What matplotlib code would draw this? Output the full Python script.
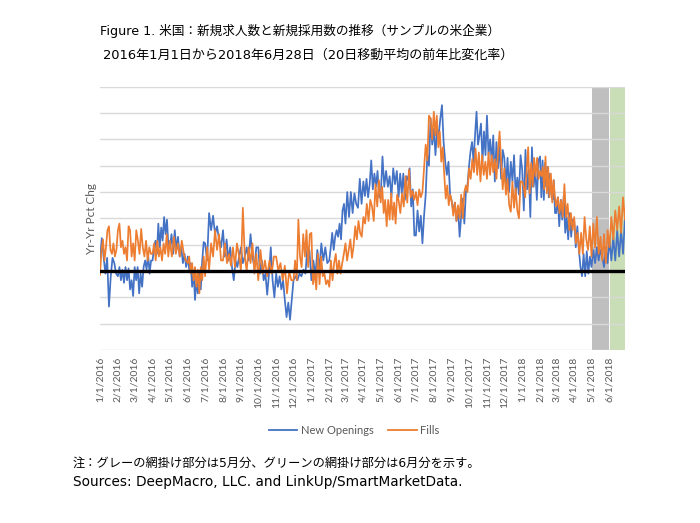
import matplotlib
matplotlib.use("Agg")
import matplotlib.pyplot as plt
import pandas as pd
from matplotlib.lines import Line2D

# ---------------- data (Yr-Yr pct chg, 1 unit = 1 gridline step) ----------------
openings_2016 = [
    [0.4, 1.25, 0.55, -0.1, 0.5, -1.35, -0.2, 0.5, 0.3, -0.1],
    [-0.2, 0.15, -0.35, 0.05, -0.45, 0.15, -0.35, 0.1, -0.7, -0.35, -0.95],
    [0.15, -0.35, 0.15, -0.85, -0.1, -0.6, 0.15, 0.4, 0.05, 0.65, -0.1, 0.4],
    [0.4, 0.9, 1.15, 0.65, 1.8, 0.9, 1.65, 1.15, 2.05, 1.4, 1.95, 0.9],
    [0.9, 1.4, 0.65, 1.55, 0.8, 1.3, 0.55, 0.9, 0.3, 0.65, 0.15],
    [0.55, 0.05, 0.3, -0.6, 0.0, -1.1, -0.35, -0.85, -0.1, -0.7, 0.4, 1.1],
    [1.05, 0.4, 2.2, 1.55, 2.1, 1.4, 1.7, 1.2, 0.9],
    [1.55, 0.55, 1.2, 0.4, 0.9, 0.15, -0.35, 0.4, 0.15, 0.55],
    [0.9, 0.3, 0.55, 0.9, 0.4, 1.4, 0.55, 0.15, 0.9],
    [0.9, -0.1, 0.4, -0.35, -0.1, -0.9, -0.1, 0.9, -0.35, -1.0],
    [-0.1, -0.6, -0.2, -0.7, -0.35, -1.1, -1.75, -1.2, -1.85, -1.1],
    [-0.35, -0.2, -0.35, -0.1, -0.2, 0.05, -0.1, 0.9, 0.8],
]
openings_2017 = [
    [-0.35, 0.4, -0.2, 0.8, 0.05, 1.05, 0.4, 0.9, 0.3],
    [0.4, 0.9, 1.45, 0.8, 1.3, 1.55, 1.3, 1.8, 1.2, 2.3, 2.55],
    [1.8, 3.0, 2.05, 3.0, 2.2, 2.95, 2.55, 2.4, 3.5, 2.55],
    [3.4, 2.85, 3.5, 2.8, 3.3, 4.2, 3.1, 3.7, 3.2, 3.8, 2.8],
    [2.8, 4.35, 3.2, 3.8, 3.2, 3.6, 2.8, 3.9, 3.3, 3.8],
    [2.8, 3.7, 2.95, 3.7, 2.7, 3.6, 3.45, 3.9, 2.45, 3.1, 1.35],
    [1.35, 2.3, 1.5, 2.1, 1.05, 2.1, 2.9, 4.4, 4.0, 5.8, 4.8],
    [5.4, 4.4, 5.4, 5.15, 5.8, 6.3, 4.9, 4.15, 3.65, 4.15, 2.9],
    [2.65, 2.25, 2.6, 1.9, 2.4, 1.3, 2.1, 2.75, 1.8, 3.0, 3.25],
    [4.0, 4.55, 4.9, 4.15, 5.15, 6.05, 4.8, 5.15, 5.6, 4.15, 5.3, 4.4],
    [5.9, 4.4, 5.0, 4.15, 5.15, 3.4, 4.9, 3.9, 4.8, 3.5, 4.6],
    [4.3, 3.25, 4.3, 3.0, 4.15, 3.4, 4.4, 2.9, 3.55, 2.9, 4.4],
]
openings_2018 = [
    [3.85, 2.3, 4.6, 3.1, 3.85, 2.05, 4.7, 3.2, 3.85, 2.7, 4.2],
    [4.35, 2.8, 4.2, 2.7, 4.1, 3.2, 3.95, 2.8, 3.7, 2.95, 2.7, 3.45, 2.2],
    [2.2, 2.8, 1.7, 2.7, 1.95, 2.85, 1.45, 2.05, 1.2, 2.2, 1.3, 1.95],
    [1.9, 0.9, 1.7, 0.8, 0.15, -0.2, 0.65, -0.2, 0.75, -0.1, 0.55],
    [0.15, 0.8, 0.3, 0.9, 0.4, 0.8, 0.55, 0.15, 0.9, 0.3],
    [1.2, 0.4, 1.3, 0.4, 1.55, 0.55, 1.55, 0.65, 2.05],
]

fills_2016 = [
    [-0.15, 0.8, 1.2, 0.4, 0.9, 1.55, 1.7, 0.8, 0.65, 1.05, 0.55, 0.8],
    [1.55, 1.8, 0.9, 1.15, 0.65, 0.9, 0.4, 1.7, 1.55, 0.55, 1.05],
    [0.4, 1.55, 1.15, 0.65, 1.6, 0.9, 0.55, 1.15, 0.4, 0.9, 0.65],
    [0.65, 1.05, 0.4, 1.15, 0.55, 0.9, 0.4, 1.05, 0.65, 1.4, 0.55],
    [1.15, 0.55, 1.3, 0.65, 1.05, 0.55, 1.15, 0.65, 0.4],
    [0.3, 0.55, -0.1, 0.3, -0.35, 0.15, -0.6, 0.05, -0.85, 0.15, -0.35, 0.55],
    [-0.2, 0.9, 0.05, 1.05, 0.55, 1.55, 0.8, 1.4, 0.4],
    [0.4, 1.05, 0.3, 0.65, 0.2, 0.9, 0.15, 1.05, 0.6],
    [0.0, 2.4, 0.55, 0.0, 0.9, 0.3, 1.05, -0.1, 0.65],
    [-0.35, 0.8, -0.1, 0.4, -0.2, 0.4, -0.1, 0.55],
    [0.55, 0.0, 0.3, -0.35, 0.2, -0.85, 0.0, -0.35],
    [-0.35, 0.4, -0.35, 1.95, 0.55, 0.15, 1.4, 0.55, 1.55, 0.15, 1.4],
]
fills_2017 = [
    [1.45, -0.5, 0.0, -0.7, 0.65, -0.5, 0.55, -0.2, -0.1, -0.5, -0.35],
    [-0.6, 0.4, -0.35, 0.3, 0.65, -0.1, 0.4, -0.1, 0.3, 0.65],
    [1.05, 0.4, 0.8, 1.2, 0.5, 0.95, 1.7, 1.2, 1.9, 1.45, 1.3],
    [2.05, 1.8, 2.55, 1.9, 2.7, 2.45, 1.9, 3.3, 2.45, 3.45],
    [2.6, 3.2, 2.2, 2.7, 1.7, 2.7, 1.95, 2.95, 1.95, 2.6, 1.8, 2.9],
    [2.7, 2.2, 2.95, 2.45, 3.6, 2.6, 3.85, 2.8, 3.05, 2.7],
    [3.0, 2.5, 3.1, 2.8, 3.0, 3.9, 4.8, 4.2, 5.9, 5.8, 5.0],
    [6.05, 5.15, 5.9, 4.7, 5.3, 4.15, 4.7, 3.65, 2.75, 3.25, 2.5, 2.9],
    [2.65, 2.1, 2.6, 1.9, 2.5, 2.0, 2.9, 2.0, 3.0, 3.25, 3.0],
    [3.9, 3.5, 4.25, 3.75, 4.65, 3.65, 4.5, 3.4, 4.4, 3.65, 4.15],
    [3.5, 4.5, 3.65, 4.4, 3.75, 4.25, 3.5, 4.5, 5.3, 4.15, 3.1],
    [3.9, 2.9, 3.5, 2.5, 2.25, 3.4, 2.4, 3.15, 2.3, 2.0, 3.4],
]
fills_2018 = [
    [3.4, 3.2, 2.8, 3.8, 4.7, 2.95, 4.1, 3.2, 4.3, 3.6, 4.3, 3.5],
    [3.8, 3.6, 3.95, 3.1, 4.35, 2.95, 3.95, 2.8, 3.7, 2.6, 3.45, 2.8],
    [2.45, 2.8, 2.2, 2.7, 2.05, 3.3, 2.05, 2.55, 1.55, 2.2, 1.55],
    [2.05, 1.05, 1.45, 0.65, 1.45, 0.65, 2.05, 1.2, 0.8, 1.7],
    [0.55, 1.8, 0.9, 2.05, 0.65, 1.3, 0.4, 1.4, 0.3, 1.55],
    [0.9, 2.05, 1.2, 2.3, 1.55, 2.45, 1.45, 2.8, 1.95],
]

start_date = "2016-01-01"
end_date = "2018-06-28"
may_start, jun_start = "2018-05-01", "2018-06-01"
series_names = ["New Openings", "Fills"]

title_1 = "Figure 1. 米国：新規求人数と新規採用数の推移（サンプルの米企業）"
title_2 = "2016年1月1日から2018年6月28日（20日移動平均の前年比変化率）"
note_1 = "注：グレーの網掛け部分は5月分、グリーンの網掛け部分は6月分を示す。"
note_2 = "Sources: DeepMacro, LLC. and LinkUp/SmartMarketData."
ylabel = "Yr-Yr Pct Chg"

# ---------------- build series ----------------
month_starts = pd.date_range(start_date, jun_start, freq="MS")
end_ts = pd.Timestamp(end_date)


def build(monthly):
    dates, vals = [], []
    for k, (ms, v) in enumerate(zip(month_starts, monthly)):
        last = k + 1 >= len(month_starts)
        me = end_ts if last else month_starts[k + 1]
        n = len(v)
        for i, val in enumerate(v):
            frac = i / (n - 1) if last else i / n
            dates.append(ms + (me - ms) * frac)
            vals.append(val)
    return dates, vals


op_d, op_v = build(openings_2016 + openings_2017 + openings_2018)
fi_d, fi_v = build(fills_2016 + fills_2017 + fills_2018)

# ---------------- plot ----------------
W, H = 700, 523
fig = plt.figure(figsize=(W / 100, H / 100), dpi=100)
ax = fig.add_axes([100 / W, 1 - 350 / H, 525 / W, (350 - 86.7) / H])

blue, orange = "#4472C4", "#ED7D31"
grey_txt = "#595959"

ax.axvspan(pd.Timestamp(may_start), pd.Timestamp(jun_start), color="#BFBFBF", lw=0, zorder=0)
ax.axvspan(pd.Timestamp(jun_start) + pd.Timedelta(hours=12), end_ts, color="#C9DDB6", lw=0, zorder=0)

for yv in range(-3, 8):
    if yv != 0:
        ax.axhline(yv, color="#D9D9D9", lw=1.0, zorder=1)

ax.plot(op_d, op_v, color=blue, lw=1.25, zorder=3)
ax.plot(fi_d, fi_v, color=orange, lw=1.25, zorder=3)
ax.axhline(0, color="black", lw=2.4, zorder=4)

ax.set_xlim(pd.Timestamp(start_date), end_ts)
ax.set_ylim(-3, 7)
for s in ax.spines.values():
    s.set_visible(False)
ax.set_yticks([])
ax.set_xticks(month_starts)
ax.set_xticklabels([f"{d.month}/{d.day}/{d.year}" for d in month_starts],
                   rotation=90, fontsize=7.5, color=grey_txt, family="Lato")
ax.tick_params(axis="x", length=0, pad=5)

fig.text(91.5 / W, 1 - 218 / H, ylabel, rotation=90, ha="center", va="center",
         fontsize=8.5, color=grey_txt, family="Lato")

handles = [Line2D([], [], color=blue, lw=1.3), Line2D([], [], color=orange, lw=1.3)]
leg = fig.legend(handles, series_names, loc="center", bbox_to_anchor=(354 / W, 1 - 430 / H),
                 ncol=2, frameon=False, handlelength=2.6, handletextpad=0.3,
                 columnspacing=1.3, prop={"family": "Lato", "size": 8})
for t in leg.get_texts():
    t.set_color(grey_txt)

mixed = ["DejaVu Sans", "Noto Sans CJK JP"]
fig.text(300 / W, 1 - 31 / H, title_1, ha="center", va="center", fontsize=9.1, family=mixed)
fig.text(308 / W, 1 - 55 / H, title_2, ha="center", va="center", fontsize=9.4, family=mixed)
fig.text(73 / W, 1 - 463 / H, note_1, ha="left", va="center", fontsize=8.8, family=mixed)
fig.text(73 / W, 1 - 482 / H, note_2, ha="left", va="center", fontsize=9.8, family=mixed)

fig.savefig("out.png", dpi=100)
